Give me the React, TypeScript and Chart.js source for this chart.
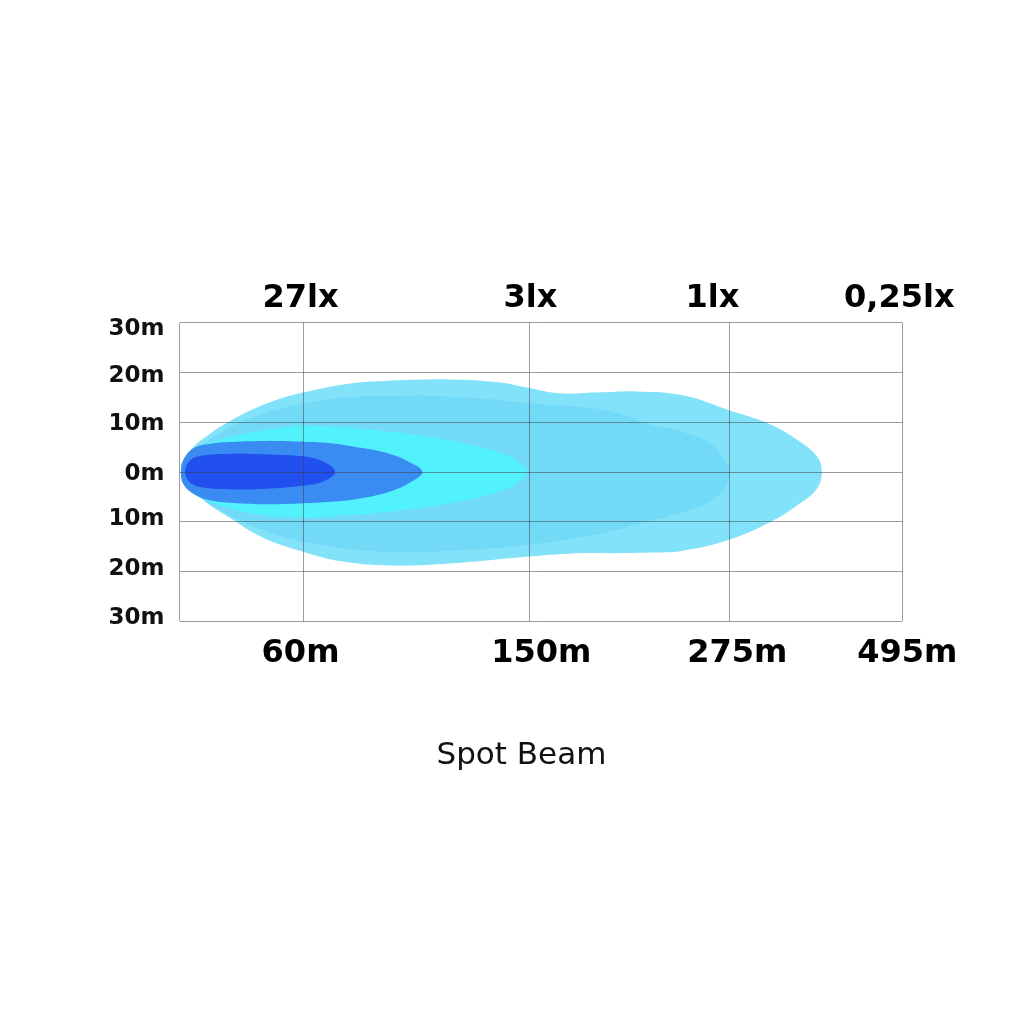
import React, { useEffect, useRef } from 'react';
import { Chart, LinearScale, registerables } from 'chart.js';

Chart.register(...registerables);

// ---------------- data ----------------
const DISTANCE_TICKS = [0, 60, 150, 275, 495];
const DISTANCE_LABELS = ['', '60m', '150m', '275m', '495m'];
const LUX_LABELS = ['', '27lx', '3lx', '1lx', '0,25lx'];
const WIDTH_MIN = -30;
const WIDTH_MAX = 30;
const WIDTH_STEP = 10;
const TITLE = 'Spot Beam';

// beam contours: [distance (m), lateral offset (m)]
const BEAM_025LX: [number, number][] = [
  [94.5, 18.4], [118.4, 18.6], [138.3, 18.0], [150, 16.9], [169.2, 15.8], [194.2, 16.0],
  [217.3, 16.2], [246.1, 15.4], [274.8, 12.4], [326.8, 9.6], [364.9, 6.1], [386.5, 3.1],
  [392.6, 0], [386.5, -3.3], [364.9, -6.3], [326.8, -10.1], [274.8, -13.6], [246.1, -15.8],
  [225.4, -16.2], [204.8, -16.3], [183.6, -16.3], [150, -17.0], [118.4, -18.4], [94.5, -18.8],
  [75.7, -18.0], [59.8, -16.0], [40.4, -13.2], [24.4, -9.2], [9.9, -5.1], [1.7, -1.3],
  [0.5, 0], [1.7, 1.2], [5.1, 4.3], [14.8, 7.7], [27.8, 11.0], [43.8, 14.0], [60.2, 16.0],
  [78.5, 17.8], [94.5, 18.4],
];

const BEAM_1LX: [number, number][] = [
  [106.4, 15.4], [134.5, 14.6], [150, 13.8], [194.2, 12.6], [212.9, 11.0], [225.4, 9.6],
  [246.1, 8.0], [262.9, 5.7], [272.3, 2.3], [274.8, 0], [272.3, -3.1], [261.0, -6.3],
  [242.3, -8.4], [225.4, -9.8], [194.2, -12.4], [150, -14.6], [118.4, -15.8], [90.5, -16.0],
  [60.2, -14.0], [39.0, -11.4], [19.6, -7.7], [7.5, -3.9], [1.7, 0], [7.5, 3.9],
  [19.6, 7.9], [39.0, 11.5], [60.2, 13.7], [78.5, 15.0], [106.4, 15.4],
];

const BEAM_3LX: [number, number][] = [
  [60.2, 9.4], [74.5, 9.0], [94.5, 8.1], [110.4, 7.1], [126.4, 5.5], [138.3, 3.9],
  [145.5, 2.1], [149.1, 0], [145.5, -2.1], [138.3, -3.9], [126.4, -5.5], [110.4, -7.0],
  [94.5, -8.0], [74.5, -8.8], [60.2, -9.2], [39.0, -8.6], [19.6, -6.7], [7.5, -4.5],
  [2.7, -2.5], [0.7, 0], [2.7, 2.7], [7.5, 4.7], [19.6, 6.5], [39.0, 8.3], [60.2, 9.4],
];

const BEAM_CORE: [number, number][] = [
  [43.8, 6.3], [60.2, 6.1], [70.6, 5.8], [83.7, 4.8], [94.5, 3.6], [102.5, 1.9],
  [107.3, 0], [102.5, -2.1], [94.5, -3.9], [83.7, -5.2], [70.6, -6.0], [60.2, -6.3],
  [43.8, -6.5], [27.8, -6.3], [14.8, -5.7], [6.5, -4.3], [1.7, -2.3], [0.7, 0],
  [1.7, 2.3], [6.5, 4.7], [14.8, 5.7], [27.8, 6.1], [43.8, 6.3],
];

const BEAM_HOTSPOT: [number, number][] = [
  [27.8, 3.7], [43.8, 3.5], [60.2, 3.1], [67.8, 2.1], [72.6, 0], [67.8, -1.9],
  [60.2, -2.7], [43.8, -3.3], [27.8, -3.5], [11.4, -3.1], [5.1, -2.1], [2.7, 0],
  [5.1, 2.3], [11.4, 3.3], [27.8, 3.7],
];

// ---------------- styling / layout ----------------
const SHAPES = [
  { data: BEAM_025LX, color: '#82e2f9' },
  { data: BEAM_1LX, color: '#72d9f7' },
  { data: BEAM_3LX, color: '#52f2fd' },
  { data: BEAM_CORE, color: '#3a8cf2' },
  { data: BEAM_HOTSPOT, color: '#2150ef' },
];

// relative positions of the distance grid lines along the axis
const GRID_FRACTIONS = [0, 0.1716, 0.484, 0.7607, 1];
// small nudges of the tick labels (px): x-nudge for horizontal axes, y-nudge for vertical
const LABEL_NUDGE: Record<string, number[]> = {
  x: [0, -3, 12, 8, 5],
  lux: [0, -3, 1, -17, -3],
  y: [-3, -3, -3, 2, 2, 4, 6],
};

function nudgeItems(scale: any, items: any[]) {
  const nudge = LABEL_NUDGE[scale.id] || [];
  const k = scale.isHorizontal() ? 0 : 1;
  items.forEach((item: any, i: number) => {
    item.options.translation[k] += nudge[i] || 0;
  });
  return items;
}

class BeamDistanceScale extends LinearScale {
  static id = 'beamDistance';
  static defaults = LinearScale.defaults;

  buildTicks() {
    return DISTANCE_TICKS.map((value) => ({ value }));
  }

  getPixelForValue(value: number) {
    const v = DISTANCE_TICKS;
    const f = GRID_FRACTIONS;
    let i = 0;
    while (i < v.length - 2 && value > v[i + 1]) i++;
    const t = f[i] + ((value - v[i]) / (v[i + 1] - v[i])) * (f[i + 1] - f[i]);
    return (this as any).getPixelForDecimal(t);
  }

  getValueForPixel(pixel: number) {
    const v = DISTANCE_TICKS;
    const f = GRID_FRACTIONS;
    const t = (this as any).getDecimalForPixel(pixel);
    let i = 0;
    while (i < f.length - 2 && t > f[i + 1]) i++;
    return v[i] + ((t - f[i]) / (f[i + 1] - f[i])) * (v[i + 1] - v[i]);
  }

  _computeLabelItems(chartArea: any) {
    return nudgeItems(this, (super._computeLabelItems as any).call(this, chartArea));
  }
}

class BeamWidthScale extends LinearScale {
  static id = 'beamWidth';
  static defaults = LinearScale.defaults;

  _computeLabelArea() {
    return undefined;
  }

  _computeLabelItems(chartArea: any) {
    return nudgeItems(this, (super._computeLabelItems as any).call(this, chartArea));
  }
}

Chart.register(BeamDistanceScale as any, BeamWidthScale as any);

const GRID_COLOR = 'rgba(60,60,60,0.5)';

export default function App() {
  const ref = useRef<HTMLCanvasElement | null>(null);

  useEffect(() => {
    if (!ref.current) return;
    const chart = new Chart(ref.current, {
      type: 'line',
      data: {
        datasets: SHAPES.map((s, i) => ({
          data: s.data.map(([x, y]) => ({ x, y })),
          backgroundColor: s.color,
          borderColor: 'rgba(0,0,0,0)',
          borderWidth: 0,
          pointRadius: 0,
          fill: 'shape',
          tension: 0.4,
          order: SHAPES.length - i,
          xAxisID: 'x',
          yAxisID: 'y',
        })),
      } as any,
      options: {
        responsive: false,
        animation: false,
        events: [],
        layout: { padding: { left: 140.5, right: 121.7, top: 262.7, bottom: 249.5 } },
        plugins: {
          legend: { display: false },
          tooltip: { enabled: false },
          title: {
            display: true,
            text: TITLE,
            position: 'bottom',
            color: '#111',
            font: { family: 'DejaVu Sans', size: 31, weight: 'normal' },
            padding: { top: 56, bottom: 0 },
          },
        },
        scales: {
          x: {
            type: 'beamDistance',
            position: 'bottom',
            min: DISTANCE_TICKS[0],
            max: DISTANCE_TICKS[DISTANCE_TICKS.length - 1],
            grid: { color: GRID_COLOR, lineWidth: 1, drawTicks: false, z: 1 },
            border: { display: false },
            ticks: {
              autoSkip: false,
              maxRotation: 0,
              padding: 13,
              color: '#000',
              font: { family: 'DejaVu Sans', size: 32, weight: 'bold' },
              callback: (_v: any, i: number) => DISTANCE_LABELS[i],
            },
            afterFit: (s: any) => { s.height = 60; },
          },
          lux: {
            type: 'beamDistance',
            axis: 'x',
            position: 'top',
            min: DISTANCE_TICKS[0],
            max: DISTANCE_TICKS[DISTANCE_TICKS.length - 1],
            grid: { display: false, drawTicks: false },
            border: { display: false },
            ticks: {
              autoSkip: false,
              maxRotation: 0,
              padding: 5,
              color: '#000',
              font: { family: 'DejaVu Sans', size: 32, weight: 'bold' },
              callback: (_v: any, i: number) => LUX_LABELS[i],
            },
            afterFit: (s: any) => { s.height = 60; },
          },
          y: {
            type: 'beamWidth',
            position: 'left',
            min: WIDTH_MIN,
            max: WIDTH_MAX,
            grid: { color: GRID_COLOR, lineWidth: 1, drawTicks: false, z: 1 },
            border: { display: false },
            ticks: {
              stepSize: WIDTH_STEP,
              padding: 15,
              color: '#111',
              font: { family: 'DejaVu Sans', size: 23, weight: 'bold' },
              callback: (v: any) => Math.abs(Number(v)) + 'm',
            },
            afterFit: (s: any) => { s.width = 39; },
          },
        },
      } as any,
    });
    return () => chart.destroy();
  }, []);

  return (
    <canvas
      ref={ref}
      width={1024}
      height={1024}
      style={{ position: 'absolute', left: 0, top: 0, display: 'block', background: '#fff' }}
    />
  );
}
